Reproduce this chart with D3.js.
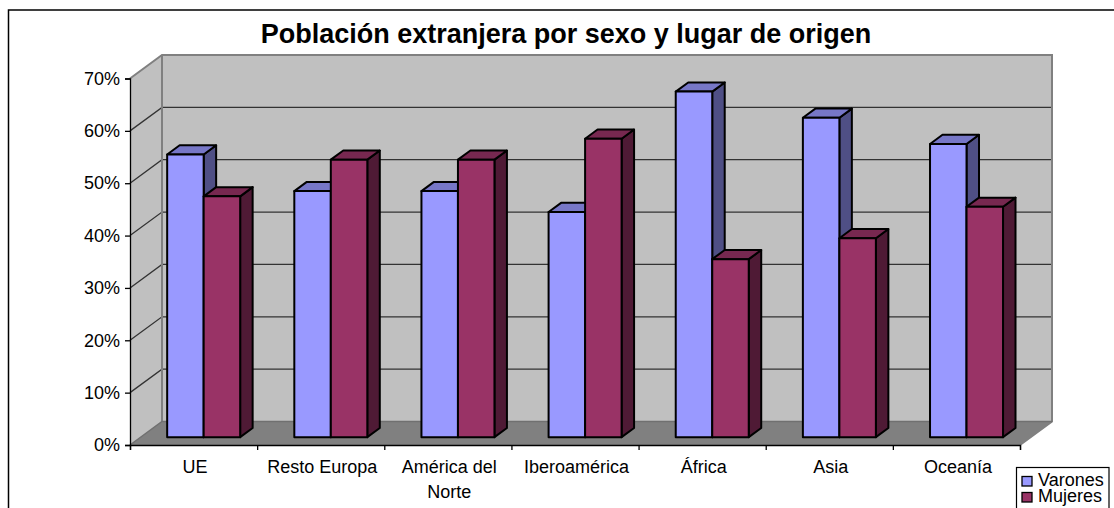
<!DOCTYPE html>
<html>
<head>
<meta charset="utf-8">
<script src="https://cdn.jsdelivr.net/npm/d3@7"></script>
<style>
  html, body { margin: 0; padding: 0; background: #fff; overflow: hidden; }
  text { font-family: "Liberation Sans", Arial, sans-serif; fill: #000; }
</style>
</head>
<body>
<svg id="chart" width="1114" height="508"></svg>
<script>
const title = 'Población extranjera por sexo y lugar de origen';
const categories = ['UE', 'Resto Europa', 'América del Norte', 'Iberoamérica', 'África', 'Asia', 'Oceanía'];
const seriesNames = ['Varones', 'Mujeres'];
const varones = [54, 47, 47, 43, 66, 61, 56];
const mujeres = [46, 53, 53, 57, 34, 38, 44];
const yTicks = [0, 10, 20, 30, 40, 50, 60, 70];

// Colours of each series: front, top and side face
const faces = {
  Varones: { front: '#9999ff', top: '#7777c7', side: '#4f4f85' },
  Mujeres: { front: '#993366', top: '#772850', side: '#4f1a35' }
};

// Reused layout constants
const depthX = 32;
const depthY = -23.5;
const barDepth = 0.39; // share of the floor depth taken by a bar
const barStart = 1 / 3; // where the bars stand on the floor
const labelSize = 18;

const svg = d3.select('#chart');

const x = d3.scaleBand().domain(categories).range([130, 1020]);
const y = d3.scaleLinear().domain([0, 70]).range([445, 78.5]);
const xEdges = d3.scaleLinear().domain([0, categories.length]).range([130, 1020]);
const series = d3.scaleBand().domain(seriesNames).range([26.5, 99.5]);

// Moves a point of the front plane back into the depth of the chart
const project = (px, py, t) => [px + depthX * t, py + depthY * t];
const poly = (points) => d3.line()(points) + 'Z';

// Outer frame, it runs off the right and bottom of the picture
svg.append('rect')
  .attr('x', 8.5).attr('y', 10)
  .attr('width', 1120).attr('height', 520)
  .attr('fill', 'none').attr('stroke', '#000').attr('stroke-width', 1.5);

svg.append('text')
  .attr('x', 566).attr('y', 43)
  .attr('text-anchor', 'middle')
  .style('font-size', '27px').style('font-weight', 'bold')
  .text(title);

// Walls and floor
const x0 = x.range()[0];
const x1 = x.range()[1];
const yBase = y(0);
const yTop = y(70);

svg.append('path')
  .attr('d', poly([[x0, yBase], project(x0, yBase, 1), project(x0, yTop, 1), [x0, yTop]]))
  .attr('fill', '#c0c0c0');
svg.append('path')
  .attr('d', poly([project(x0, yBase, 1), project(x1, yBase, 1), project(x1, yTop, 1), project(x0, yTop, 1)]))
  .attr('fill', '#c0c0c0');
svg.append('path')
  .attr('d', poly([[x0, yBase], [x1, yBase], project(x1, yBase, 1), project(x0, yBase, 1)]))
  .attr('fill', '#808080');

// Gridlines go along the side wall and then the back wall
svg.append('g').selectAll('path')
  .data(yTicks.filter(d => d > 0 && d < 70))
  .join('path')
  .attr('d', d => d3.line()([[x0, y(d)], project(x0, y(d), 1), project(x1, y(d), 1)]))
  .attr('fill', 'none').attr('stroke', '#333').attr('stroke-width', 1.3);

// Wall edges
svg.append('path')
  .attr('d', d3.line()([[x0, yTop], project(x0, yTop, 1), project(x1, yTop, 1), project(x1, yBase, 1), [x1, yBase]]))
  .attr('fill', 'none').attr('stroke', '#808080').attr('stroke-width', 2);
svg.append('path')
  .attr('d', d3.line()([project(x0, yBase, 1), project(x0, yTop, 1)]))
  .attr('fill', 'none').attr('stroke', '#808080').attr('stroke-width', 2);
svg.append('path')
  .attr('d', d3.line()([[x0, yBase], project(x0, yBase, 1), project(x1, yBase, 1)]))
  .attr('fill', 'none').attr('stroke', '#707070').attr('stroke-width', 1.5);

// Bars
const values = { Varones: varones, Mujeres: mujeres };
const barRows = categories.flatMap((c, i) => seriesNames.map(s => ({ c, s, v: values[s][i] })));

const bars = svg.append('g').selectAll('g')
  .data(barRows)
  .join('g')
  .attr('stroke', '#000').attr('stroke-width', 2).attr('stroke-linejoin', 'round');

const barCorners = d => {
  const left = x(d.c) + series(d.s);
  const right = left + series.bandwidth();
  return { left, right, top: y(d.v), base: y(0) };
};

bars.append('path')
  .attr('fill', d => faces[d.s].side)
  .attr('d', d => {
    const b = barCorners(d);
    const t0 = barStart;
    const t1 = barStart + barDepth;
    return poly([project(b.right, b.top, t0), project(b.right, b.top, t1), project(b.right, b.base, t1), project(b.right, b.base, t0)]);
  });
bars.append('path')
  .attr('fill', d => faces[d.s].top)
  .attr('d', d => {
    const b = barCorners(d);
    const t0 = barStart;
    const t1 = barStart + barDepth;
    return poly([project(b.left, b.top, t0), project(b.right, b.top, t0), project(b.right, b.top, t1), project(b.left, b.top, t1)]);
  });
bars.append('path')
  .attr('fill', d => faces[d.s].front)
  .attr('d', d => {
    const b = barCorners(d);
    return poly([project(b.left, b.top, barStart), project(b.right, b.top, barStart), project(b.right, b.base, barStart), project(b.left, b.base, barStart)]);
  });

// Axes
const yAxis = svg.append('g')
  .attr('transform', `translate(${x0},0)`)
  .call(d3.axisLeft(y).tickValues(yTicks).tickFormat(d => d + '%').tickSize(5).tickPadding(5));
const xAxis = svg.append('g')
  .attr('transform', `translate(0,${yBase})`)
  .call(d3.axisBottom(xEdges).tickValues(d3.range(categories.length + 1)).tickFormat('').tickSize(5));

yAxis.selectAll('text').style('font-size', labelSize + 'px').style('font-family', '"Liberation Sans", Arial, sans-serif');
[yAxis, xAxis].forEach(a => {
  a.selectAll('.domain,.tick line').attr('stroke', '#000').attr('stroke-width', 1.3);
});

// Category labels, long ones wrap on two lines
const labels = svg.append('g').selectAll('text')
  .data(categories)
  .join('text')
  .attr('y', 473)
  .attr('text-anchor', 'middle')
  .style('font-size', labelSize + 'px');

labels.each(function(d) {
  const el = d3.select(this);
  const cx = x(d) + x.bandwidth() / 2 + 1.5;
  let line = [];
  let tspan = el.append('tspan').attr('x', cx);
  d.split(' ').forEach(word => {
    line.push(word);
    tspan.text(line.join(' '));
    if (tspan.node().getComputedTextLength() > 122 && line.length > 1) {
      line.pop();
      tspan.text(line.join(' '));
      line = [word];
      tspan = el.append('tspan').attr('x', cx).attr('dy', 25).text(word);
    }
  });
});

// Legend, also cut by the bottom of the picture
const legend = svg.append('g');
legend.append('rect')
  .attr('x', 1016.5).attr('y', 467.5)
  .attr('width', 92.5).attr('height', 50)
  .attr('fill', '#fff').attr('stroke', '#000').attr('stroke-width', 1.2);

const legendY = d3.scalePoint().domain(seriesNames).range([486, 502]);
legend.selectAll('rect.swatch')
  .data(seriesNames)
  .join('rect')
  .attr('class', 'swatch')
  .attr('x', 1022).attr('y', d => legendY(d) - 9.5)
  .attr('width', 10).attr('height', 9.5)
  .attr('fill', d => faces[d].front)
  .attr('stroke', '#000').attr('stroke-width', 1.3);
legend.selectAll('text')
  .data(seriesNames)
  .join('text')
  .attr('x', 1038).attr('y', d => legendY(d))
  .style('font-size', labelSize + 'px')
  .text(d => d);
</script>
</body>
</html>
